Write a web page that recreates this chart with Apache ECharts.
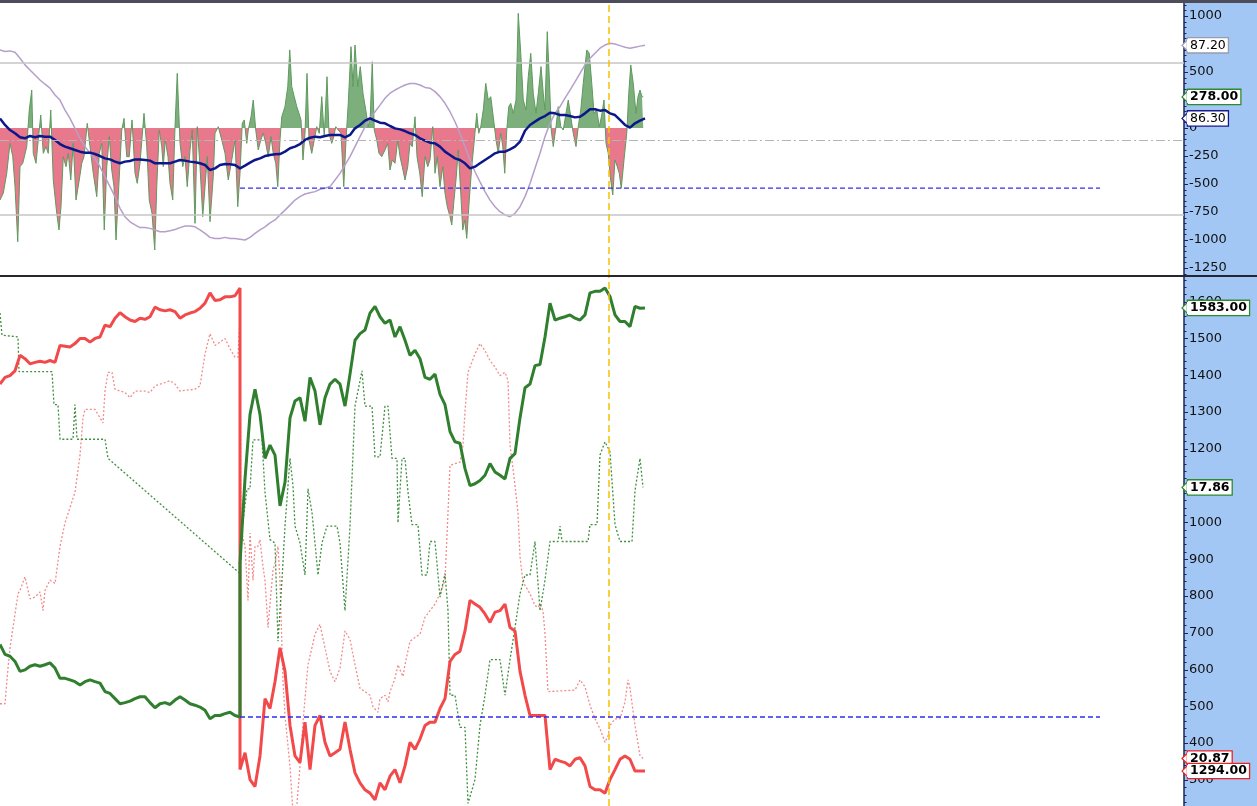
<!DOCTYPE html>
<html><head><meta charset="utf-8">
<script src="https://cdn.jsdelivr.net/npm/echarts@6/dist/echarts.min.js"></script>
<style>html,body{margin:0;padding:0;background:#fff}#c{width:1257px;height:806px}</style>
</head><body><div id="c"></div><script>
// ---------------- data ----------------
const topTickLabels = [-1250,-1000,-750,-500,-250,0,250,500,750,1000];
const bottomTickLabels = [300,400,500,600,700,800,900,1000,1100,1200,1300,1400,1500,1600];
const jumpIndex = 48;        // last bar before the session break (duplicated bar follows)
const cursorBar = 243.3;     // yellow cursor bar
const stopRange = [96, 440]; // bars where the blue stop levels are drawn
const topLevels = { upper: 580, lower: -777, mid: -107, stop: -536 };
const bottomStop = 471;
const tagTexts = { purple: '87.20', osc: '278.00', navy: '86.30', green: '1583.00', dotGreen: '17.86', dotRed: '20.87', red: '1294.00' };

// oscillator histogram [bar, value]
const osc = [[0,-643],[1.3,-583],[2.7,-404],[4,-137],[5.1,-256],[6,-524],[7.1,-1015],[8,-345],[9.1,-315],[10.7,-166],[11.7,161],[12.7,339],[13.3,-226],[14.4,-315],[15.3,-107],[16.3,116],[17.3,-226],[18.4,-166],[19.3,-226],[20.3,161],[21.3,-464],[22.7,-762],[23.6,-910],[24.4,-702],[25.3,-256],[26.4,-345],[27.3,-226],[28.3,-464],[29.3,-137],[30.4,-643],[31.7,-464],[32.7,-315],[33.6,-256],[34.9,42],[36,-166],[37.3,-404],[38.7,-613],[39.7,-226],[40.7,-137],[41.7,-910],[42.7,-345],[43.7,-77],[44.7,-375],[45.6,-524],[46.4,-1000],[47.5,-524],[48.7,-18],[49.6,86],[50.7,-256],[51.7,-256],[52.8,72],[54,-404],[54.9,-494],[56,-315],[57.6,131],[58.7,-166],[59.7,-643],[60.8,-762],[61.9,-1089],[62.7,-524],[63.7,-18],[64.7,-166],[65.3,-345],[66.1,-107],[67.2,-256],[68,-494],[69.1,-643],[70,12],[70.9,488],[72,-137],[73.1,-345],[74,-256],[74.9,-524],[76,-196],[76.9,-18],[78,-851],[78.9,12],[80,-345],[81.1,-791],[82,-524],[82.9,-256],[84,-836],[85.3,-434],
[86,-47],[87.3,12],[88.7,-107],[90,-226],[91.3,-464],[92.7,-285],[94,-107],[95.1,-702],[96,-404],[96.9,42],[97.7,72],[98.7,-137],[99.3,-18],[100.4,101],[101.3,250],[102.3,-18],[103.3,-196],[104.3,-107],[105.3,-47],[106.3,-137],[107.3,-256],[108.4,-77],[109.3,-226],[110.3,-315],[111.1,-524],[112,-107],[112.7,101],[114,191],[115.1,369],[115.9,697],[116.7,369],[117.7,280],[118.7,191],[119.6,131],[120.4,72],[121.2,-285],[122,-47],[122.8,488],[123.6,-107],[124.7,-226],[125.7,-107],[126.7,12],[127.7,-47],[128.7,280],[129.7,-77],[130.8,458],[131.6,-47],[132.7,-137],[133.5,-77],[134.3,12],[135.3,-18],[136.4,-47],[137.5,-524],[138.4,-107],[139.3,220],[140.4,726],[141.2,369],[142,741],[143.1,369],[144.1,548],[145.2,310],[146.3,161],[147.3,12],[148.1,101],[148.9,592],[149.7,-18],[150.7,-107],[151.6,-226],[152.7,-256],[154,-196],[155.1,-137],[156,-375],[156.9,-285],[158,-315],[159.1,-107],[160,-256],[160.9,-345],[162,-464],[163.1,-345],[164,-137],[164.9,-166],[166,101],[166.8,-256],[167.9,-404],[168.9,-613],[170,-256],[171.1,-345],
[172,-285],[173.1,12],[174,-404],[174.9,-256],[176,-524],[177.1,-345],[178,-583],[178.9,-702],[180,-791],[180.7,-866],[181.6,-643],[182.4,-464],[183.3,-196],[184.3,-583],[185.1,-910],[185.9,-821],[186.7,-985],[187.7,-643],[188.7,-345],[189.6,-137],[190.7,131],[191.5,-47],[192.3,12],[193.3,161],[194.3,399],[195.3,250],[196.3,280],[197.3,101],[198.4,-107],[199.3,-226],[200.3,-47],[201.1,-166],[201.9,-404],[202.7,-18],[203.5,191],[204.3,220],[205.3,131],[206.4,250],[207.3,1024],[208.3,667],[209.3,250],[210.4,161],[211.3,458],[212.3,667],[213.3,310],[214.4,131],[215.3,310],[216.4,548],[217.3,310],[218,161],[218.9,860],[219.7,458],[220.5,-18],[221.3,-166],[222.4,12],[223.3,191],[224.3,12],[225.3,-18],[226.4,131],[227.3,250],[228.3,101],[229.3,-47],[230.4,-166],[231.3,12],[232.3,161],[233.3,399],[234.7,697],[235.7,667],[236.7,399],[237.6,131],[238.7,161],[239.7,12],[240.7,116],[241.6,250],[242.4,-137],[243.3,-226],[244.1,-434],[245.1,-598],[246,-285],[246.9,-345],[247.7,-404],[248.5,-538],[249.6,-285],[250.7,-47],[251.5,310],[252.3,563],[253.3,399],[254.4,131],[255.2,280],[256,339],[256.8,280],[257.3,278]];

// navy signal line, one value every 2 bars from bar 0
const navy = [86,27,-18,-47,-83,-92,-71,-83,-71,-77,-77,-107,-143,-166,-181,-196,-211,-220,-220,-232,-250,-271,-280,-300,-315,-300,-294,-280,-280,-285,-291,-315,-315,-315,-315,-300,-285,-291,-300,-306,-315,-330,-375,
-360,-330,-321,-324,-330,-360,-336,-309,-285,-271,-250,-241,-235,-232,-211,-181,-166,-143,-107,-86,-77,-83,-71,-62,-62,-62,-83,-62,-3,27,66,86,66,48,42,18,-3,-12,-27,-47,-62,-92,-113,
-131,-137,-166,-211,-241,-271,-285,-315,-360,-345,-315,-285,-256,-226,-211,-211,-190,-166,-122,-24,27,57,86,107,137,131,116,116,107,95,101,131,167,167,155,161,131,116,72,27,3,42,66,86];

// purple oscillator (own 0-100 scale), one value every 2 bars
const purple = [85.4,84.9,85.1,84.6,82.3,79.8,77.9,76,74.1,72.5,71,68.4,66.5,62.7,59.6,55.8,52,48.9,46.4,44.5,41.3,37.5,33.8,30,25.6,22.4,20.5,19.3,18.3,18.3,18,17.4,16.7,16.7,17.1,17.6,18.3,18.9,18.9,18.6,17.4,16.1,14.6,
14.2,14.2,14.6,14.2,14.2,13.9,13.6,14.6,16.1,17.4,18.6,20.1,21.2,23.1,24.9,26.8,28.7,30,31,31.5,31.9,32.8,33.2,33.8,36.3,38.8,42,45.1,48.9,52.7,56.4,59.6,62.1,64.6,67.2,69.1,70.3,71.3,72.2,72.8,72.8,72.2,71.3,
71,69.7,67.8,65.3,62.1,58.3,53.9,48.9,43.8,39.4,35.6,31.9,28.7,26.2,24.3,23.1,22.4,23.7,26.2,30,35,40.7,46.4,52.7,57.7,61.5,64,67.2,70.3,73.4,76.6,79.8,82.3,84.2,86.1,87.3,88,87.7,87.1,86.5,86.1,86.5,86.9,87.2];

// thick equity lines, every 2 bars, value after jumpIndex is the post-break value on the same bar
const greenThick = [668,641,636,622,595,599,609,613,609,613,618,604,576,576,572,567,558,567,572,567,563,540,535,521,507,510,514,521,526,526,510,496,507,510,505,517,526,517,507,503,498,489,466,
475,475,480,484,475,471,
889,
1118,1293,1362,1293,1174,1210,1183,1045,1109,1284,1330,1339,1275,1394,1357,1265,1339,1376,1389,1376,1316,1403,1495,1513,1523,1569,1587,1559,1541,1550,1504,1532,1495,1454,1468,1445,1394,
1389,1403,1348,1320,1247,1219,1215,1146,1100,1105,1114,1128,1160,1137,1128,1118,1174,1187,1284,1366,1376,1426,1429,1504,1596,1550,1555,1559,1564,1555,1550,1564,1624,1628,1628,1637,1614,1564,1546,1546,1532,1587,1582,1583];
const redThick = [1376,1394,1399,1412,1454,1445,1431,1435,1438,1435,1440,1435,1481,1479,1477,1486,1500,1500,1490,1500,1504,1536,1532,1555,1570,1559,1550,1546,1555,1552,1559,1585,1578,1575,1578,1573,1555,1564,1569,1573,1582,1596,1624,
1603,1605,1613,1613,1616,1637,
328,
374,301,282,365,521,494,567,659,595,448,365,347,457,328,448,475,402,365,374,383,457,383,319,292,273,264,246,292,273,310,328,292,338,402,383,411,448,
457,457,494,521,622,641,650,705,788,778,769,751,728,756,760,778,714,705,595,530,475,475,475,475,328,356,351,347,338,356,360,338,282,273,273,264,301,328,356,365,356,324,324,324];

// dotted lines [bar, value]
const dotGreen = [[0,1569],[0.8,1509],[1.2,1504],[7.2,1504],[7.6,1410],[20.8,1410],[21.6,1320],[23.2,1320],[24,1226],[29.2,1226],[30,1320],[30.8,1226],[42,1226],[43.2,1174],[96,861],[96.8,981],[98.8,1091],[100,1091],[101.2,1224],[104.8,1224],[106,1082],[108,953],[110,944],[111.2,677],[112.8,843],[114,990],[116,1174],[117.2,1100],[118,990],[120,944],[122,857],[123.2,1091],[124.8,1027],[126,944],[127.2,857],[128.8,944],[130.8,990],[134.8,990],[136,944],[138,760],[140,990],[142,1316],[144.8,1412],[146,1316],[148.8,1316],[150,1178],[152,1178],[154,1316],[155.2,1316],[156.8,1174],[158.8,1174],[159.2,999],[160.8,1174],[162,1174],[163.2,1082],[164.8,994],[167.2,994],[168.8,857],[170.8,857],[172,948],[174,948],[176,797],[178,861],[179.2,760],[180,530],[182,530],[184,443],[186,443],[187.2,236],[188,236],[190,301],[192,448],[194,530],[196,627],[200,627],[202,530],[204,627],[206,714],[208,806],[210,857],[212,857],[214,948],[216,760],[218,843],[220,948],[223.2,948],[224,990],[224.8,948],[235.2,948],[236,994],[238.8,994],[240,1183],[242,1219],[244,1192],[246,994],[248,948],[252.8,948],[254,1086],[256,1174],[257.2,1095]];
const dotRed = [[0,507],[2,507],[3.2,604],[4,659],[6,751],[7.2,806],[8,815],[10,852],[12,792],[14,797],[16,811],[17.2,760],[18,815],[20,843],[22,834],[24,935],[26,999],[28,1040],[30,1082],[32,1183],[33.2,1284],[34,1307],[38,1307],[40,1284],[41.2,1270],[42,1357],[43.2,1408],[44.8,1408],[46,1362],[48,1357],[50,1353],[52,1339],[54,1357],[58,1357],[60,1353],[62,1371],[64,1376],[66,1380],[68,1385],[70,1376],[72,1357],[78,1362],[80,1371],[82,1458],[84,1513],[86,1481],[88,1490],[90,1500],[92,1472],[94,1449],[95.2,1449],[96,1559],[96.4,981],[98,935],[99.2,788],[100,971],[101.2,843],[102,935],[103.2,935],[104,953],[105.2,879],[106,843],[107.2,714],[108,778],[109.2,870],[110,889],[111.2,935],[112,843],[113.2,567],[114,475],[116,337],[117.2,209],[118.8,236],[120,337],[121.2,457],[122,521],[123.2,613],[124,613],[126,696],[128,723],[130,659],[132,595],[134,567],[136,604],[138,705],[140,682],[142,613],[144,549],[146,540],[148,530],[149.2,498],[151.2,484],[152,521],[154,530],[155.2,512],[156,540],[158,576],[159.2,613],[160,599],[161.2,581],[162,613],[164,677],[166,687],[168,696],[170,742],[172,760],[174,778],[176,806],[178,843],[179.2,1027],[180,1155],[184,1164],[185.2,1210],[186,1302],[187.2,1408],[188,1422],[190,1458],[192,1486],[194,1467],[196,1440],[198,1422],[200,1399],[202,1408],[203.2,1385],[204,1210],[205.2,1146],[206,1100],[207.2,1027],[208,907],[209.2,838],[210,843],[212,806],[214,774],[215.2,769],[216,778],[217.2,760],[218,696],[219.2,540],[220,535],[230,544],[232,572],[234,553],[236,503],[238,466],[240,439],[242,402],[243.2,420],[244,448],[246,466],[248,466],[250,512],[251.2,572],[252,549],[254,448],[256,366],[257.2,358]];

// ---------------- chart ----------------
const W = 1257, H = 806, AXW = 73;
const xMax = (W - AXW) / 2.5;
const mainX = i => (i <= jumpIndex ? 2 * i : 2 * (i - 1));
const toPairs = arr => arr.map((v, i) => [mainX(i), v]);
const evenPairs = arr => arr.map((v, i) => [2 * i, v]);
const levelPairs = v => stopRange.map(b => [b, v]);

const AX = '#1c2458';
const labelFont = () => ({ fontFamily: 'DejaVu Sans', fontSize: 13, color: '#111', margin: 5, formatter: v => String(v) });
function yAx(grid, min, max, labels) {
  return {
    type: 'value', gridIndex: grid, position: 'right', min, max,
    axisLine: { show: true, onZero: false, lineStyle: { color: AX, width: 1.5 } },
    axisTick: { show: false },
    axisLabel: Object.assign({ customValues: labels }, labelFont()),
    splitLine: { show: false }
  };
}
const noSym = () => ['none', 'none'];
const cursorStyle = () => ({ color: '#f5c200', width: 1.5, type: [7, 4] });
const stopSeries = (xi, yi, v) => ({ type: 'line', xAxisIndex: xi, yAxisIndex: yi, data: levelPairs(v),
  showSymbol: false, silent: true, z: 5, color: '#2e2ef0',
  lineStyle: { color: '#2e2ef0', width: 1.3, type: [5, 3] },
  markLine: { silent: true, symbol: noSym(), label: { show: false },
    data: [{ xAxis: cursorBar, lineStyle: cursorStyle() }] } });

const chart = echarts.init(document.getElementById('c'), null, { renderer: 'canvas' });
chart.setOption({
  animation: false,
  backgroundColor: '#ffffff',
  grid: [
    { left: 0, right: AXW, top: 3, height: 273 },
    { left: 0, right: AXW, top: 277, height: 529 }
  ],
  xAxis: [
    { type: 'value', gridIndex: 0, min: 0, max: xMax, show: false },
    { type: 'value', gridIndex: 1, min: 0, max: xMax, show: false }
  ],
  yAxis: [
    yAx(0, -1321, 1116, topTickLabels),
    { type: 'value', gridIndex: 0, position: 'right', min: 0, max: 103.2, show: false },
    yAx(1, 229, 1667, bottomTickLabels)
  ],
  visualMap: [{
    type: 'piecewise', show: false, seriesIndex: 0, dimension: 1,
    pieces: [{ gt: 0, lte: 5000, color: '#7caf7c' }, { gt: -5000, lte: 0, color: '#e8788c' }]
  }],
  series: [
    { name: 'osc', type: 'line', xAxisIndex: 0, yAxisIndex: 0, data: osc, showSymbol: false,
      lineStyle: { color: '#5e9a5e', width: 1 }, areaStyle: { opacity: 1 }, z: 2,
      markLine: { silent: true, symbol: noSym(), label: { show: false },
        data: [
          { yAxis: topLevels.upper, lineStyle: { color: '#c6c6c6', width: 1.5, type: 'solid' } },
          { yAxis: topLevels.lower, lineStyle: { color: '#c6c6c6', width: 1.5, type: 'solid' } },
          { yAxis: topLevels.mid, lineStyle: { color: '#b4b4b4', width: 1, type: [9, 3, 2, 3] } }
        ] } },
    { name: 'purple', type: 'line', xAxisIndex: 0, yAxisIndex: 1, data: evenPairs(purple), showSymbol: false,
      lineStyle: { color: '#b59fca', width: 1.5 }, z: 3 },
    { name: 'navy', type: 'line', xAxisIndex: 0, yAxisIndex: 0, data: evenPairs(navy), showSymbol: false,
      lineStyle: { color: '#0c1789', width: 2.5 }, z: 4 },
    Object.assign({ name: 'topStop' }, stopSeries(0, 0, topLevels.stop)),
    { name: 'dotRed', type: 'line', xAxisIndex: 1, yAxisIndex: 2, data: dotRed, showSymbol: false,
      lineStyle: { color: '#f28c8c', width: 1.3, type: [2, 2] }, z: 2 },
    { name: 'dotGreen', type: 'line', xAxisIndex: 1, yAxisIndex: 2, data: dotGreen, showSymbol: false,
      lineStyle: { color: '#3f8f3f', width: 1.3, type: [2, 2] }, z: 2 },
    { name: 'red', type: 'line', xAxisIndex: 1, yAxisIndex: 2, data: toPairs(redThick), showSymbol: false,
      lineStyle: { color: '#f24a4a', width: 3 }, z: 3 },
    { name: 'green', type: 'line', xAxisIndex: 1, yAxisIndex: 2, data: toPairs(greenThick), showSymbol: false,
      lineStyle: { color: '#2f7f2f', width: 3 }, z: 4 },
    Object.assign({ name: 'bottomStop' }, stopSeries(1, 2, bottomStop))
  ]
});

// ---- decorations, axis ticks & value tags (positions through the axes) ----
const last = a => a[a.length - 1];
const lastV = a => { const l = last(a); return Array.isArray(l) ? l[1] : l; };
const axisX = chart.convertToPixel({ xAxisIndex: 0 }, xMax);
const graphics = [
  { type: 'rect', z: -5, shape: { x: axisX, y: 0, width: W - axisX, height: H }, style: { fill: '#a3c7f5' } },
  { type: 'rect', z: 50, shape: { x: 0, y: 0, width: W, height: 3 }, style: { fill: '#4c4c5a' } },
  { type: 'rect', z: 50, shape: { x: 0, y: 275, width: W, height: 2 }, style: { fill: '#262630' } }
];
function addTicks(yi, from, to, step, majors) {
  for (let v = from; v <= to; v += step) {
    const py = Math.round(chart.convertToPixel({ yAxisIndex: yi }, v)) + 0.5;
    const len = majors.indexOf(v) >= 0 ? 4 : 2.5;
    graphics.push({ type: 'line', z: 40, shape: { x1: axisX, y1: py, x2: axisX + len, y2: py },
      style: { stroke: AX, lineWidth: 1 } });
  }
}
addTicks(0, -1300, 1100, 50, topTickLabels);
addTicks(2, 240, 1660, 20, bottomTickLabels);

const tagDefs = [
  { t: tagTexts.purple, x: 0, y: 1, v: lastV(purple), c: '#9a9aae', bold: false },
  { t: tagTexts.navy, x: 0, y: 0, v: lastV(navy), c: '#1a1a8a', bold: false },
  { t: tagTexts.osc, x: 0, y: 0, v: lastV(osc), c: '#2f8a2f', bold: true },
  { t: tagTexts.dotGreen, x: 1, y: 2, v: lastV(dotGreen), c: '#2f8a2f', bold: true },
  { t: tagTexts.dotRed, x: 1, y: 2, v: lastV(dotRed), c: '#ee2222', bold: true },
  { t: tagTexts.red, x: 1, y: 2, v: lastV(redThick), c: '#ee2222', bold: true },
  { t: tagTexts.green, x: 1, y: 2, v: lastV(greenThick), c: '#2f8a2f', bold: true }
];
tagDefs.forEach((d, k) => {
  const py = chart.convertToPixel({ xAxisIndex: d.x, yAxisIndex: d.y }, [xMax, d.v])[1];
  const x0 = axisX;
  graphics.push({ type: 'polygon', z: 60 + k,
    shape: { points: [[x0 - 2, py], [x0 + 5, py - 7], [x0 + 5, py + 7]] },
    style: { fill: '#ffffff', stroke: d.c, lineWidth: 1.2 } });
  graphics.push({ type: 'text', z: 60 + k, x: x0 + 4, y: py,
    style: { text: d.t, fill: '#000', font: (d.bold ? 'bold ' : '') + '12.5px "DejaVu Sans"',
      verticalAlign: 'middle', align: 'left', backgroundColor: '#ffffff', borderColor: d.c,
      borderWidth: 1.3, padding: [1, 2, 0, 2] } });
  graphics.push({ type: 'rect', z: 60 + k, shape: { x: x0 + 3, y: py - 6, width: 3, height: 12 }, style: { fill: '#ffffff' } });
});
chart.setOption({ graphic: graphics });
</script></body></html>
